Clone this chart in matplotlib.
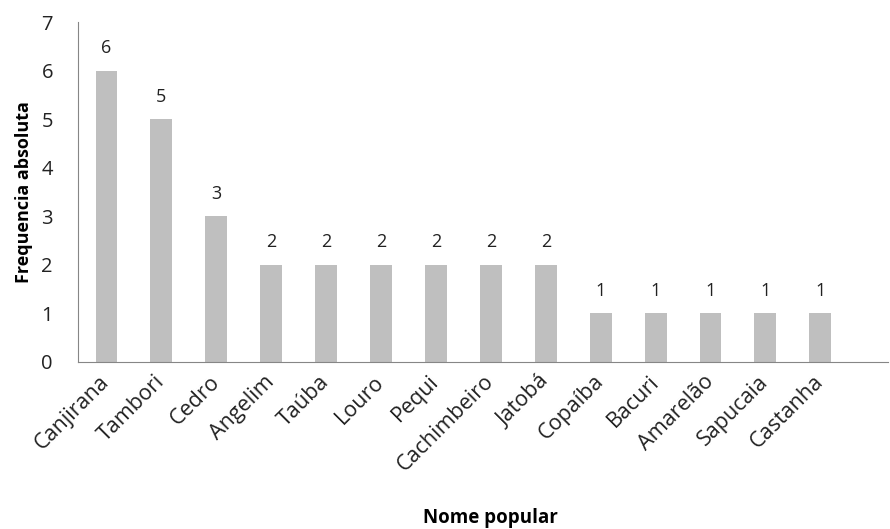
import matplotlib
matplotlib.use("Agg")
import matplotlib.pyplot as plt

names = ["Canjirana", "Tambori", "Cedro", "Angelim", "Taúba", "Louro", "Pequi",
         "Cachimbeiro", "Jatobá", "Copaíba", "Bacuri", "Amarelão", "Sapucaia", "Castanha"]
freq = [6, 5, 3, 2, 2, 2, 2, 2, 2, 1, 1, 1, 1, 1]

plt.rcParams['font.family'] = ['Open Sans', 'DejaVu Sans']

fig = plt.figure(figsize=(8.9, 5.29), dpi=100)
ax = fig.add_axes([0.0876, 0.3157, 0.91, 0.642])

x = list(range(len(names)))
bars = ax.bar(x, freq, width=0.4, color="#bfbfbf")
for b, v in zip(bars, freq):
    ax.text(b.get_x() + b.get_width() / 2, v + 0.28, str(v), ha="center", va="bottom",
            fontsize=13, color="#222222")

ax.set_xlim(-0.52, 14.23)
ax.set_ylim(0, 7)
ax.set_yticks(range(8))
ax.set_xticks(x)
ax.set_xticklabels(names, rotation=45, ha="right", va="center", rotation_mode="anchor",
                   fontsize=15.5)
ax.tick_params(axis="y", labelsize=14.5)
ax.tick_params(axis="both", length=0, colors="#222222")
ax.tick_params(axis="x", pad=12)
ax.tick_params(axis="y", pad=18)

for s in ["top", "right"]:
    ax.spines[s].set_visible(False)
for s in ["left", "bottom"]:
    ax.spines[s].set_color("#868686")

ax.set_ylabel("Frequencia absoluta", fontsize=13, fontweight="bold", labelpad=6)
ax.set_xlabel("Nome popular", fontsize=13.5, fontweight="bold")
ax.xaxis.set_label_coords(0.509, -0.43)

fig.savefig("out.png", dpi=100)
